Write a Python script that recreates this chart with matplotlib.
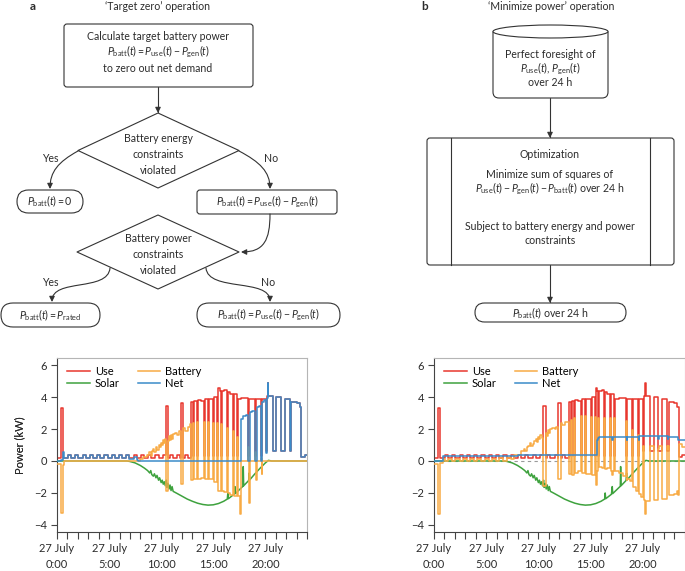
import matplotlib
matplotlib.use('Agg')
import matplotlib.pyplot as plt
from matplotlib.patches import FancyBboxPatch, Polygon, Ellipse, PathPatch, FancyArrowPatch
from matplotlib.path import Path
from matplotlib.ticker import FixedLocator

plt.rcParams['font.family'] = ['Lato', 'DejaVu Sans']
plt.rcParams['mathtext.fontset'] = 'custom'
plt.rcParams['mathtext.rm'] = 'Lato'
plt.rcParams['mathtext.it'] = 'Lato:italic'
plt.rcParams['mathtext.bf'] = 'Lato:bold'

# ---------------- data (hours of 27 July, kW) ----------------
hour_ticks = [0, 5, 10, 15, 20]
hour_labels = ['27 July\n0:00', '27 July\n5:00', '27 July\n10:00', '27 July\n15:00', '27 July\n20:00']
series_names = ['Use', 'Solar', 'Battery', 'Net']

# household use (step values starting at each time)
use_steps = [(0.00, 0.17), (0.42, 3.30), (0.60, 0.17), (1.05, 0.35), (1.35, 0.17), (1.75, 0.35),
             (2.05, 0.17), (2.45, 0.35), (2.75, 0.17), (3.15, 0.35), (3.45, 0.17), (3.85, 0.35),
             (4.15, 0.17), (4.55, 0.35), (4.85, 0.17), (5.25, 0.35), (5.55, 0.17), (5.95, 0.35),
             (6.25, 0.17), (6.65, 0.38), (6.95, 0.17), (7.35, 0.35), (7.65, 0.17), (8.05, 0.35),
             (8.35, 0.17), (8.75, 0.35), (9.05, 0.17), (9.45, 0.35), (9.75, 0.17), (10.15, 0.35),
             (10.45, 3.45), (10.70, 0.17), (10.85, 0.35), (11.15, 0.17), (11.55, 0.35), (11.85, 0.17),
             (11.92, 3.65), (12.12, 0.17), (12.25, 0.35), (12.55, 0.17), (12.90, 3.70), (13.10, 0.30),
             (13.20, 3.75), (13.42, 0.30), (13.52, 3.80), (13.80, 3.75), (14.12, 0.30), (14.22, 3.85),
             (14.50, 0.30), (14.60, 3.90), (14.80, 3.85), (15.02, 0.30), (15.12, 4.00), (15.40, 0.30),
             (15.50, 4.55), (15.62, 4.40), (15.72, 0.30), (15.82, 4.35), (16.05, 4.45), (16.30, 0.30),
             (16.40, 4.30), (16.60, 4.20), (16.85, 0.30), (16.95, 4.20), (17.25, 0.30), (17.35, 3.90),
             (17.70, 3.95), (18.35, 0.30), (18.45, 3.90), (19.00, 0.30), (19.10, 3.90), (19.55, 0.30),
             (19.65, 3.85), (20.05, 0.60), (20.15, 4.05), (20.22, 4.90), (20.28, 4.05), (20.70, 0.60),
             (21.05, 4.00), (21.50, 0.60), (21.85, 3.90), (22.35, 0.60), (22.50, 3.70), (23.00, 3.60),
             (23.30, 3.40), (23.45, 0.25), (23.80, 0.40), (24.00, 0.40)]

# solar generation (negative = generation)
solar_pts = [(0.0, 0.0), (6.7, 0.0), (7.0, -0.03), (7.5, -0.12), (8.0, -0.28), (8.4, -0.45),
             (8.7, -0.60), (8.9, -0.75), (9.0, -0.60), (9.1, -0.85), (9.25, -0.95), (9.35, -0.80),
             (9.5, -1.05), (9.6, -0.90), (9.75, -1.20), (9.85, -1.05), (10.0, -1.35), (10.1, -1.20),
             (10.2, -1.45), (10.3, -1.30), (10.4, -1.55), (10.5, -1.20), (10.55, -1.65), (10.65, -1.40),
             (10.75, -1.75), (10.85, -1.50), (10.95, -1.85), (11.05, -1.60), (11.15, -1.90), (11.3, -1.95),
             (11.5, -2.02), (12.0, -2.20), (12.5, -2.38), (13.0, -2.52), (13.5, -2.64), (14.0, -2.72),
             (14.5, -2.76), (15.0, -2.74), (15.5, -2.66), (16.0, -2.52), (16.35, -2.38), (16.4, -2.00),
             (16.45, -2.36), (17.0, -2.08), (17.08, -1.60), (17.12, -2.04), (17.5, -1.80), (17.85, -1.58),
             (17.88, -0.35), (17.92, -1.55), (18.4, -1.22), (18.45, -0.75), (18.5, -1.18), (19.0, -0.80),
             (19.5, -0.45), (20.0, -0.12), (20.3, 0.04), (20.6, 0.0), (24.0, 0.0)]

# (a) 'Target zero' battery and net (step values)
batt_a_steps = [(0.00, -0.17), (0.42, -3.25), (0.60, -0.25), (0.66, 0.00), (7.65, 0.02), (8.00, 0.10),
                (8.30, 0.22), (8.60, 0.35), (8.80, 0.55), (9.00, 0.30), (9.10, 0.60), (9.25, 0.75),
                (9.35, 0.55), (9.50, 0.85), (9.60, 0.70), (9.75, 1.00), (9.85, 0.85), (10.00, 1.15),
                (10.10, 1.00), (10.20, 1.30), (10.30, 1.10), (10.40, 1.35), (10.45, -1.90), (10.70, 1.25),
                (10.75, 1.55), (10.85, 1.30), (10.95, 1.65), (11.05, 1.40), (11.15, 1.70), (11.30, 1.75),
                (11.55, 1.65), (11.70, 1.85), (11.92, -1.45), (12.12, 2.05), (12.25, 1.90), (12.55, 2.15),
                (12.75, 2.30), (12.90, -1.20), (13.10, 2.35), (13.20, -1.15), (13.42, 2.45), (13.52, -1.10),
                (13.80, -1.05), (14.12, 2.45), (14.22, -1.12), (14.50, 2.45), (14.60, -1.15), (15.02, 2.40),
                (15.12, -1.30), (15.40, 2.35), (15.50, -1.90), (15.72, 2.30), (15.82, -1.85), (16.05, -1.95),
                (16.30, 2.05), (16.40, -2.00), (16.60, -2.10), (16.85, 1.85), (16.95, -2.20), (17.25, 1.50),
                (17.35, -2.20), (17.55, -3.30), (17.62, -2.30), (17.70, 0.00), (18.35, 0.90), (18.45, -2.65),
                (18.52, 0.00), (19.00, 0.55), (19.10, -1.20), (19.18, 0.00), (19.55, 0.20), (19.65, -0.80),
                (19.72, 0.00), (24.00, 0.00)]

net_a_steps = [(0.00, 0.00), (0.42, 0.05), (0.60, 0.55), (0.66, 0.17), (1.05, 0.35), (1.35, 0.17),
               (1.75, 0.35), (2.05, 0.17), (2.45, 0.35), (2.75, 0.17), (3.15, 0.35), (3.45, 0.17),
               (3.85, 0.35), (4.15, 0.17), (4.55, 0.35), (4.85, 0.17), (5.25, 0.35), (5.55, 0.17),
               (5.95, 0.35), (6.25, 0.17), (6.65, 0.38), (6.95, 0.15), (7.35, 0.27), (7.65, 0.05),
               (7.80, 0.00), (17.70, 2.65), (17.90, 2.80), (18.10, 2.90), (18.35, 0.00), (18.52, 3.05),
               (18.75, 3.15), (19.00, 0.00), (19.18, 3.35), (19.35, 3.45), (19.55, 0.00), (19.72, 3.70),
               (19.90, 3.80), (20.05, 0.50), (20.15, 3.95), (20.22, 4.90), (20.28, 4.05), (20.70, 0.60),
               (21.05, 4.00), (21.50, 0.60), (21.85, 3.90), (22.35, 0.60), (22.50, 3.70), (23.00, 3.60),
               (23.30, 3.40), (23.45, 0.25), (23.80, 0.40), (24.00, 0.40)]

# (b) 'Minimize power' battery and net (step values)
batt_b_steps = [(0.00, -0.17), (0.42, -3.30), (0.60, -0.15), (0.88, 0.15), (1.05, -0.03), (1.35, 0.15),
                (1.75, -0.03), (2.05, 0.15), (2.45, -0.03), (2.75, 0.15), (3.15, -0.03), (3.45, 0.15),
                (3.85, -0.03), (4.15, 0.15), (4.55, -0.03), (4.85, 0.15), (5.25, -0.03), (5.55, 0.15),
                (5.95, -0.03), (6.25, 0.16), (6.65, -0.03), (6.95, 0.20), (7.35, 0.10), (7.65, 0.35),
                (8.05, 0.35), (8.35, 0.60), (8.60, 0.75), (8.75, 0.65), (8.90, 0.90), (9.05, 0.95),
                (9.15, 1.15), (9.30, 0.95), (9.45, 1.05), (9.60, 1.25), (9.75, 1.35), (9.90, 1.20),
                (10.00, 1.50), (10.10, 1.35), (10.20, 1.65), (10.30, 1.45), (10.45, -1.55), (10.70, 1.75),
                (10.85, 1.55), (10.95, 1.95), (11.05, 1.75), (11.15, 2.00), (11.30, 2.05), (11.55, 2.00),
                (11.70, 2.15), (11.92, -1.10), (12.12, 2.35), (12.25, 2.25), (12.55, 2.45), (12.90, -0.80),
                (13.10, 2.55), (13.20, -0.85), (13.42, 2.70), (13.52, -0.75), (13.80, -0.65), (14.12, 2.80),
                (14.22, -0.75), (14.50, 2.80), (14.60, -0.80), (15.02, 2.75), (15.12, -0.90), (15.40, 2.75),
                (15.50, -1.50), (15.62, -0.60), (15.72, 2.70), (15.82, -0.35), (16.05, -0.45), (16.30, 2.70),
                (16.40, -0.50), (16.60, -0.45), (16.85, 2.70), (16.95, -0.65), (17.05, -0.85), (17.12, -0.65),
                (17.25, 2.70), (17.35, -0.60), (17.70, -0.75), (18.10, -0.95), (18.35, 2.50), (18.45, -1.20),
                (18.52, -1.10), (18.75, -1.25), (19.00, 1.95), (19.10, -1.65), (19.35, -1.85), (19.55, 1.65),
                (19.65, -2.05), (19.85, -2.25), (20.05, 0.95), (20.15, -2.45), (20.22, -3.30), (20.28, -2.50),
                (20.70, 0.95), (21.05, -2.45), (21.50, 0.75), (21.56, 0.95), (21.85, -2.35), (22.35, 0.95),
                (22.40, 0.75), (22.46, 0.95), (22.50, -2.15), (23.00, -2.05), (23.30, -1.90), (23.40, -2.10),
                (23.45, 1.05), (23.80, 0.90), (24.00, 0.90)]

net_b_steps = [(0.00, 0.00), (0.88, 0.32), (4.00, 0.33), (8.00, 0.35), (12.00, 0.38), (15.62, 0.90),
               (15.66, 1.30), (15.72, 1.45), (15.85, 1.52), (17.05, 1.30), (17.12, 1.52), (18.45, 1.30),
               (18.52, 1.52), (19.62, 1.30), (19.68, 1.55), (21.50, 1.35), (21.56, 1.55), (22.40, 1.35),
               (22.46, 1.52), (23.40, 1.30), (24.00, 1.30)]

# ---------------- style ----------------
RED = '#e8372e'
ORANGE = '#f8ab45'
GREEN = '#3ea23e'
BLUE = '#3b8bc9'
TXT = '#2b2b2b'
LINE = '#333333'
FS = 7.6

fig = plt.figure(figsize=(6.85, 5.71), dpi=100)

# ---------------- flowcharts (pixel coordinates) ----------------
fc = fig.add_axes([0, 0, 1, 1])
fc.set_xlim(0, 685)
fc.set_ylim(571, 0)
fc.axis('off')


def txt(x, y, s, **kw):
    d = dict(ha='center', va='center', fontsize=FS, color=TXT)
    d.update(kw)
    fc.text(x, y, s, **d)


def box(x0, y0, x1, y1, r):
    fc.add_patch(FancyBboxPatch((x0, y0), x1 - x0, y1 - y0,
                                boxstyle=f'round,pad=0,rounding_size={r}',
                                fc='white', ec=LINE, lw=0.8))


def arrow(pts):
    if len(pts) == 2:
        path = Path(pts, [Path.MOVETO, Path.LINETO])
    else:
        path = Path(pts, [Path.MOVETO, Path.CURVE4, Path.CURVE4, Path.CURVE4])
    fc.add_patch(FancyArrowPatch(path=path, arrowstyle='-|>', mutation_scale=8,
                                 color=LINE, lw=0.8, shrinkA=0, shrinkB=0))


def diamond(cx, top, bottom, left, right):
    mid = (top + bottom) / 2
    fc.add_patch(Polygon([(cx, top), (right, mid), (cx, bottom), (left, mid)],
                         closed=True, fc='white', ec=LINE, lw=0.8, joinstyle='round'))


P_eq = r'$P_{\mathrm{batt}}(t) = P_{\mathrm{use}}(t) - P_{\mathrm{gen}}(t)$'

# panel a
txt(33, 7, 'a', fontweight='bold', fontsize=8.5)
txt(158, 7, '\u2018Target zero\u2019 operation')
box(64, 24, 253, 87, 3)
txt(158, 36, 'Calculate target battery power')
txt(158, 52, P_eq)
txt(158, 68, 'to zero out net demand')
arrow([(158, 87), (158, 113)])
diamond(158, 113, 188, 78, 239)
txt(158, 138, 'Battery energy')
txt(158, 155, 'constraints')
txt(158, 170, 'violated')
txt(50, 158, 'Yes')
txt(271, 158, 'No')
arrow([(78, 151), (58, 162), (50, 172), (50, 189)])
arrow([(239, 151), (260, 162), (270, 172), (270, 189)])
box(17, 190, 83, 213, 11.5)
txt(50, 201.5, r'$P_{\mathrm{batt}}(t) = 0$')
box(197, 190, 337, 214, 3)
txt(267, 202, P_eq)
diamond(158, 215, 289, 77, 239)
txt(158, 239, 'Battery power')
txt(158, 255, 'constraints')
txt(158, 270, 'violated')
arrow([(270, 214), (270, 240), (264, 252), (241, 252)])
txt(50, 283, 'Yes')
txt(268, 283, 'No')
arrow([(110, 268), (108, 292), (52, 278), (52, 302)])
arrow([(206, 268), (208, 292), (270, 278), (270, 302)])
box(1, 303, 100, 327, 12)
txt(50, 315, r'$P_{\mathrm{batt}}(t) = P_{\mathrm{rated}}$')
box(197, 303, 340, 327, 12)
txt(268, 315, P_eq)

# panel b
txt(425, 7, 'b', fontweight='bold', fontsize=8.5)
txt(551, 7, '\u2018Minimize power\u2019 operation')
cyl = Path([(493, 31.5), (493, 92), (493, 98), (499, 98), (602, 98), (608, 98), (608, 92), (608, 31.5)],
           [Path.MOVETO, Path.LINETO, Path.CURVE3, Path.CURVE3, Path.LINETO, Path.CURVE3, Path.CURVE3,
            Path.LINETO])
fc.add_patch(PathPatch(cyl, fc='white', ec=LINE, lw=0.8))
fc.add_patch(Ellipse((550.5, 31.5), 115, 13, fc='white', ec=LINE, lw=0.8))
txt(550, 55, 'Perfect foresight of')
txt(550, 69, r'$P_{\mathrm{use}}(t)$, $P_{\mathrm{gen}}(t)$')
txt(550, 82, 'over 24 h')
arrow([(550, 98), (550, 138)])
box(427, 138, 674, 265, 3)
fc.plot([451, 451], [138, 265], color=LINE, lw=0.8)
fc.plot([650, 650], [138, 265], color=LINE, lw=0.8)
txt(550, 154, 'Optimization')
txt(550, 174, 'Minimize sum of squares of')
txt(550, 189, r'$P_{\mathrm{use}}(t) - P_{\mathrm{gen}}(t) - P_{\mathrm{batt}}(t)$ over 24 h')
txt(550, 226, 'Subject to battery energy and power')
txt(550, 241, 'constraints')
arrow([(550, 265), (550, 303)])
box(475, 303, 626, 322, 9.5)
txt(550, 313, r'$P_{\mathrm{batt}}(t)$ over 24 h')

# ---------------- time-series panels ----------------
W, H = 685.0, 571.0


def unzip(pairs):
    return [p[0] for p in pairs], [p[1] for p in pairs]


def panel(left_px, right_px, batt_steps, net_steps, zero_line):
    ax = fig.add_axes([left_px / W, 1 - 532 / H, (right_px - left_px) / W, (532 - 358) / H])
    if zero_line:
        ax.axhline(0, color='#9a9a9a', lw=0.8, ls=(0, (3, 3)), zorder=1)
    ut, uv = unzip(use_steps)
    st, sv = unzip(solar_pts)
    bt, bv = unzip(batt_steps)
    nt, nv = unzip(net_steps)
    ax.plot(ut, uv, drawstyle='steps-post', color=RED, lw=1.1, label=series_names[0], zorder=2)
    ax.plot(st, sv, color=GREEN, lw=1.1, label=series_names[1], zorder=3)
    ax.plot(bt, bv, drawstyle='steps-post', color=ORANGE, lw=1.1, label=series_names[2], zorder=4)
    ax.plot(nt, nv, drawstyle='steps-post', color=BLUE, lw=1.1, label=series_names[3], zorder=5)
    ax.set_xlim(0, 24)
    ax.set_ylim(-4.44, 6.44)
    ax.set_yticks([-4, -2, 0, 2, 4, 6])
    ax.set_xticks(hour_ticks)
    ax.set_xticklabels(hour_labels, linespacing=1.55)
    ax.xaxis.set_minor_locator(FixedLocator(list(range(0, 25))))
    ax.tick_params(axis='both', which='both', direction='out', colors='#444444', labelcolor=TXT,
                   labelsize=8, width=0.8)
    ax.tick_params(axis='x', which='both', length=5, pad=3)
    ax.tick_params(axis='y', length=4, pad=3)
    for s in ['left', 'bottom']:
        ax.spines[s].set_color('#444444')
        ax.spines[s].set_linewidth(0.8)
    for s in ['top', 'right']:
        ax.spines[s].set_color('#b5b5b5')
        ax.spines[s].set_linewidth(0.8)
    ax.set_ylabel('Power (kW)', fontsize=8, color=TXT)
    ax.yaxis.set_label_coords(-(left_px - 25) / (right_px - left_px), 0.5)
    ax.legend(loc='upper left', ncol=2, frameon=False, fontsize=8, handlelength=2.0,
              handletextpad=0.5, columnspacing=1.6, labelspacing=0.1,
              bbox_to_anchor=(0.01, 1.0), borderaxespad=0.3)
    return ax


panel(57, 307, batt_a_steps, net_a_steps, False)
panel(434, 684.5, batt_b_steps, net_b_steps, True)

fig.savefig('out.png', dpi=100)
